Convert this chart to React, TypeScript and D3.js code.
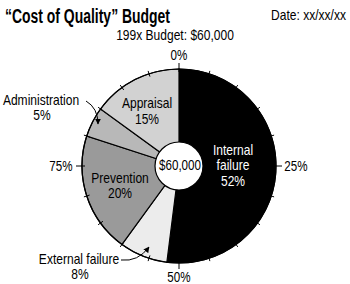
import React from "react";
import * as d3 from "d3";

const categories = ["Internal failure", "External failure", "Prevention", "Administration", "Appraisal"];
const values = [52, 8, 20, 5, 15];
const colors = ["#000000", "#ececec", "#9a9a9a", "#b8b8b8", "#d2d2d2"];
const tickLabels = ["0%", "25%", "50%", "75%"];
const tickPercents = d3.range(0, 100, 5);

const FONT = "'Liberation Sans', Arial, sans-serif";

type TProps = {
  x: number; y: number; size?: number; sx?: number; anchor?: "start" | "middle" | "end";
  fill?: string; weight?: string; children: React.ReactNode;
};
function T({ x, y, size = 14, sx = 0.86, anchor = "middle", fill = "#000", weight = "normal", children }: TProps) {
  return (
    <text
      transform={`translate(${x},${y}) scale(${sx},1)`}
      fontSize={size}
      fontWeight={weight}
      fill={fill}
      textAnchor={anchor}
      dominantBaseline="central"
    >
      {children}
    </text>
  );
}

export default function App() {
  const W = 350, H = 284;
  const cx = 179, cy = 166, R = 97, r0 = 24;
  const pie = d3.pie<number>().sort(null).value((d) => d)(values);
  const arc = d3.arc<d3.PieArcDatum<number>>().innerRadius(0).outerRadius(R);
  const angle = d3.scaleLinear().domain([0, 100]).range([0, 2 * Math.PI]);
  const pt = (a: number, rad: number) => [Math.sin(a) * rad, -Math.cos(a) * rad];
  const labelOffsets = [14, 20, 14, 21];

  return (
    <svg width={W} height={H} style={{ position: "absolute", left: 0, top: 0 }} fontFamily={FONT}>
      <text x={5} y={16} fontSize={20} fontWeight="bold" dominantBaseline="central" textLength={165} lengthAdjust="spacingAndGlyphs">“Cost of Quality” Budget</text>
      <T x={346} y={15} anchor="end">Date: xx/xx/xx</T>
      <T x={175} y={35}>199x Budget: $60,000</T>
      <g transform={`translate(${cx},${cy})`}>
        {pie.map((d, i) => (
          <path key={i} d={arc(d) || ""} fill={colors[i]} stroke="#000" strokeWidth={1.2} />
        ))}
        <circle r={R} fill="none" stroke="#000" strokeWidth={1.2} />
        {tickPercents.map((p) => {
          const a = angle(p);
          const major = p % 25 === 0;
          const [x1, y1] = pt(a, R - 3);
          const [x2, y2] = pt(a, R + (major ? 6 : 3));
          return <line key={p} x1={x1} y1={y1} x2={x2} y2={y2} stroke="#000" strokeWidth={1} />;
        })}
        {tickLabels.map((t, i) => {
          const a = angle(i * 25);
          const [x, y] = pt(a, R + labelOffsets[i]);
          return (
            <T key={t} x={x} y={y} size={14} sx={0.83}>{t}</T>
          );
        })}
        <circle r={r0} fill="#fff" stroke="#000" strokeWidth={1.2} />
        <T x={1} y={-1} size={14} sx={0.83}>$60,000</T>
      </g>
      {/* slice labels */}
      <T x={233} y={150} fill="#fff">Internal</T>
      <T x={233} y={165} fill="#fff">failure</T>
      <T x={233} y={181} fill="#fff">{values[0]}%</T>
      <T x={120} y={178}>Prevention</T>
      <T x={120} y={193}>{values[2]}%</T>
      <T x={147} y={103}>Appraisal</T>
      <T x={147} y={119}>{values[4]}%</T>
      <T x={41} y={100}>Administration</T>
      <T x={42} y={115}>{values[3]}%</T>
      <T x={79} y={259}>External failure</T>
      <T x={80} y={274}>{values[1]}%</T>
      <defs>
        <marker id="ah" viewBox="0 0 10 10" refX={9} refY={5} markerWidth={6} markerHeight={6} orient="auto">
          <path d="M0,0 L10,5 L0,10 z" fill="#000" />
        </marker>
      </defs>
      <path d="M86,101 Q98,108 98,124" fill="none" stroke="#000" strokeWidth={1} markerEnd="url(#ah)" />
      <path d="M121,260 Q138,262 149,247" fill="none" stroke="#000" strokeWidth={1} markerEnd="url(#ah)" />
    </svg>
  );
}
